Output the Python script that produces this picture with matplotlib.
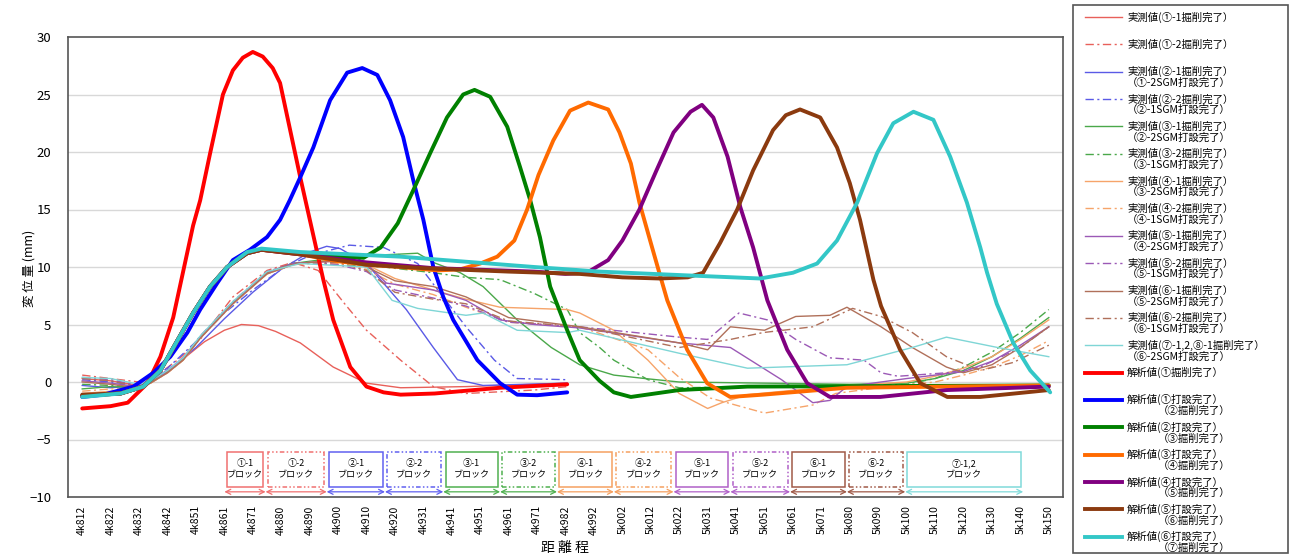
import matplotlib.pyplot as plt
from matplotlib.patches import Rectangle

plt.rcParams['font.family'] = ['Noto Sans CJK JP', 'DejaVu Sans']

# 距離程 (category axis, one label per slot)
chainages = ['4k812', '4k822', '4k832', '4k842', '4k851', '4k861', '4k871', '4k880',
             '4k890', '4k900', '4k910', '4k920', '4k931', '4k941', '4k951', '4k961',
             '4k971', '4k982', '4k992', '5k002', '5k012', '5k022', '5k031', '5k041',
             '5k051', '5k061', '5k071', '5k080', '5k090', '5k100', '5k110', '5k120',
             '5k130', '5k140', '5k150']

# ---- measured values (実測値) ----
m1_x = [0, 1, 2, 2.75, 3.5, 4.3, 5.0, 5.6, 6.2, 6.8, 7.67, 8.83, 10.0, 11.2, 13.5, 17.06]
m1_y = [0.3, 0.1, -0.3, 0.6, 1.9, 3.5, 4.5, 5.0, 4.9, 4.4, 3.4, 1.3, -0.1, -0.5, -0.4, -0.1]
m2_x = [0, 1, 2, 2.75, 3.4, 4.15, 5.3, 6.5, 7.4, 8.3, 9.2, 10.0, 11.2, 12.35, 13.5, 15.9, 17.06]
m2_y = [0.6, 0.3, 0.0, 0.8, 2.0, 3.7, 7.4, 9.7, 10.4, 9.7, 6.9, 4.5, 1.9, -0.4, -1.0, -0.7, -0.4]
m3_x = [0, 1, 2, 3, 4, 5, 6, 7, 8, 8.6, 9.07, 10.0, 10.7, 11.4, 12.35, 13.2, 14.1, 17.06]
m3_y = [-0.3, -0.5, -0.3, 1.0, 3.0, 5.5, 7.8, 9.8, 11.3, 11.8, 11.6, 10.3, 8.3, 6.3, 3.0, 0.2, -0.3, -0.1]
m4_x = [0, 1, 2, 3, 4, 5, 6, 7, 8, 9.4, 10.6, 11.8, 12.6, 13.5, 14.5, 15.3, 17.06]
m4_y = [0.2, 0.0, -0.3, 1.2, 3.5, 6.0, 8.0, 9.8, 11.0, 11.9, 11.7, 10.3, 7.7, 4.8, 1.9, 0.3, 0.2]
m5_x = [0, 1, 2, 2.4, 3, 3.55, 4.15, 5.3, 6.5, 7.4, 8, 9, 10, 11, 11.8, 12.35, 13.3, 14.1,
        15.3, 16.5, 17.5, 18.7, 19.8, 21.0, 24, 27, 29, 30, 31, 32, 33, 34]
m5_y = [-0.6, -0.4, -0.5, 0.0, 0.9, 2.0, 3.9, 6.9, 9.5, 10.3, 10.5, 10.8, 11.0, 11.1, 11.2,
        10.4, 9.5, 8.3, 5.4, 3.0, 1.5, 0.6, 0.3, 0.0, -0.1, -0.2, -0.1, 0.3, 1.0, 2.2, 3.8, 5.6]
m6_x = [0, 1, 2, 2.4, 3, 3.55, 4.15, 5.3, 6.5, 7.4, 8, 9, 10.6, 12.35, 13.5, 14.7, 15.9,
        17.06, 17.5, 18.2, 18.7, 19.9, 21.0, 24, 27, 29, 30, 31, 32, 33, 34]
m6_y = [-0.2, -0.3, -0.5, 0.0, 0.9, 2.0, 3.9, 6.9, 9.5, 10.3, 10.4, 10.2, 10.0, 9.5, 9.1,
        8.9, 7.7, 6.3, 4.3, 3.0, 1.9, 0.2, -0.5, -0.4, -0.3, -0.2, 0.3, 1.3, 2.6, 4.3, 6.3]
m7_x = [0, 1, 2, 2.4, 3, 3.55, 4.15, 5.3, 6.5, 7.4, 8, 9, 10, 11, 12.35, 13.5, 14.7, 15.9,
        17.06, 17.5, 18.7, 19.9, 21.0, 22.0, 22.5, 23.4, 25.1, 27, 29, 30, 31, 32, 33, 34]
m7_y = [-1.0, -0.8, -0.6, -0.1, 0.8, 1.9, 3.8, 6.8, 9.4, 10.2, 10.4, 10.5, 10.2, 9.0, 8.0,
        7.2, 6.5, 6.4, 6.3, 6.0, 4.5, 1.9, -1.0, -2.3, -1.8, -1.1, -0.7, -0.3, 0.0, 0.5,
        1.2, 2.2, 3.7, 5.4]
m8_x = [0, 1, 2, 2.4, 3, 3.55, 4.15, 5.3, 6.5, 7.4, 8, 9, 10, 11, 12.35, 13.5, 15, 17.5,
        19.9, 21.0, 22.1, 24.0, 25.7, 26.5, 28, 30, 31, 32, 33, 34]
m8_y = [-0.8, -0.6, -0.6, -0.1, 0.8, 1.9, 3.8, 6.8, 9.4, 10.2, 10.3, 10.3, 9.8, 8.5, 7.6,
        6.5, 5.2, 4.8, 2.8, 0.4, -1.4, -2.7, -2.0, -1.0, -0.5, 0.0, 0.6, 1.3, 2.3, 3.6]
m9_x = [0, 1, 2, 2.4, 3, 3.55, 4.15, 5.3, 6.5, 7.4, 8, 9, 10, 10.7, 12.35, 13.5, 14.7,
        15.9, 17.5, 21.0, 22.8, 24.6, 25.7, 26.3, 26.9, 29, 31, 32, 33, 34]
m9_y = [0.1, -0.1, -0.4, 0.0, 0.9, 2.0, 3.9, 6.9, 9.5, 10.3, 10.4, 10.5, 10.3, 8.6, 8.0,
        7.1, 5.4, 5.0, 4.7, 3.4, 3.0, 0.2, -1.8, -1.6, -0.4, 0.3, 0.9, 1.8, 3.2, 4.8]
m10_x = [0, 1, 2, 2.4, 3, 3.55, 4.15, 5.3, 6.5, 7.4, 8, 9, 10, 11, 12.35, 13.5, 15, 17.5,
         21.0, 22.0, 23.1, 24.1, 25.1, 26.3, 27.5, 28.1, 28.7, 30.4, 31.6, 33, 34]
m10_y = [0.4, 0.2, -0.3, 0.1, 1.0, 2.1, 4.0, 7.0, 9.6, 10.3, 10.4, 10.2, 9.6, 8.0, 7.3, 6.6,
         5.2, 4.8, 3.9, 3.7, 6.0, 5.4, 3.7, 2.1, 1.9, 0.8, 0.5, 0.8, 1.3, 3.0, 4.8]
m11_x = [0, 1, 2, 2.4, 3, 3.55, 4.15, 5.3, 6.5, 7.4, 8, 9, 10, 11, 12.35, 13.5, 15, 17.5,
         21.0, 22.0, 22.8, 24.0, 25.1, 26.3, 26.9, 28.1, 29.2, 30.4, 31, 32, 33, 34]
m11_y = [0.0, -0.2, -0.5, -0.1, 0.8, 1.9, 3.8, 6.8, 9.4, 10.2, 10.4, 10.6, 10.0, 8.8, 8.3,
         7.4, 5.6, 4.8, 3.4, 2.8, 4.8, 4.5, 5.7, 5.8, 6.5, 4.8, 3.0, 1.3, 0.8, 1.5, 3.0, 4.8]
m12_x = [0, 1, 2, 2.4, 3, 3.55, 4.15, 5.3, 6.5, 7.4, 8, 9, 10, 11, 12.35, 13.5, 15, 17.5,
         21.0, 22.8, 23.95, 25.7, 27.1, 28.1, 29.2, 30.4, 31.6, 32.75, 34]
m12_y = [0.3, 0.1, -0.4, 0.0, 0.9, 2.0, 3.9, 6.9, 9.5, 10.3, 10.4, 10.4, 9.7, 7.8, 7.2,
         6.8, 5.3, 4.8, 3.0, 3.7, 4.3, 4.8, 6.4, 5.7, 4.3, 2.2, 1.0, 1.7, 3.2]
m13_x = [0, 1, 2, 2.4, 3, 3.55, 4.15, 5.3, 6.5, 7.67, 10.0, 10.9, 11.8, 13.5, 14.1, 15.3,
         17.06, 17.5, 21.0, 23.4, 26.9, 29.2, 30.4, 32.2, 34]
m13_y = [0.4, 0.3, -0.2, 0.1, 1.0, 2.1, 4.0, 7.0, 9.6, 10.3, 10.0, 7.1, 6.4, 5.8, 6.0, 4.5,
         4.3, 4.5, 2.5, 1.2, 1.5, 3.0, 3.9, 3.0, 2.2]

# ---- analysis values (解析値) ----
a1_x = [0, 1, 1.6, 2.3, 2.75, 3.2, 3.55, 3.9, 4.15, 4.5, 4.95, 5.3, 5.65, 6.0, 6.35, 6.7,
        6.96, 7.67, 8.48, 8.83, 9.43, 10.0, 10.6, 11.2, 12.4, 14.7, 17.06]
a1_y = [-2.3, -2.1, -1.8, -0.1, 2.2, 5.6, 9.6, 13.6, 15.8, 19.9, 25.0, 27.1, 28.2, 28.7,
        28.3, 27.3, 26.0, 17.8, 8.9, 5.4, 1.3, -0.4, -0.9, -1.1, -1.0, -0.5, -0.2]
a2_x = [0, 0.75, 1.8, 2.5, 3.1, 3.7, 4.15, 4.75, 5.3, 5.9, 6.5, 6.96, 7.3, 7.67, 8.13, 8.72,
        9.32, 9.85, 10.38, 10.83, 11.29, 11.64, 12.0, 12.35, 12.7, 13.05, 13.9, 14.7, 15.3,
        16.0, 17.06]
a2_y = [-1.3, -1.1, -0.4, 0.8, 2.2, 4.3, 6.3, 8.6, 10.6, 11.5, 12.6, 14.1, 15.8, 17.8, 20.4,
        24.5, 26.9, 27.3, 26.7, 24.5, 21.3, 17.6, 14.1, 10.0, 7.4, 5.4, 1.9, -0.1, -1.1,
        -1.15, -0.9]
a3_x = [0, 1.35, 2.15, 2.75, 3.3, 3.9, 4.5, 5.1, 5.8, 6.3, 7.67, 9.0, 9.9, 10.5, 11.1,
        11.65, 12.24, 12.83, 13.4, 13.8, 14.35, 14.95, 15.4, 15.76, 16.1, 16.46, 17.06, 17.5,
        18.2, 18.7, 19.3, 21.0, 23.4, 34]
a3_y = [-1.2, -1.0, -0.4, 1.0, 3.4, 6.0, 8.3, 10.0, 11.2, 11.5, 11.2, 10.9, 10.8, 11.7,
        13.8, 16.7, 19.9, 23.0, 25.0, 25.4, 24.8, 22.2, 18.7, 15.8, 12.6, 8.3, 4.5, 1.9, 0.1,
        -0.9, -1.3, -0.7, -0.4, -0.3]
a4_x = [0, 1.35, 2.15, 2.75, 3.3, 3.9, 4.5, 5.1, 5.8, 6.3, 7.67, 9.0, 10.0, 11.2, 12.5,
        13.3, 14.0, 14.6, 15.2, 15.65, 16.05, 16.57, 17.16, 17.8, 18.5, 18.9, 19.3, 19.6, 20.0,
        20.3, 20.58, 21.28, 21.98, 22.79, 23.95, 26.9, 34]
a4_y = [-1.2, -1.0, -0.4, 1.0, 3.4, 6.0, 8.3, 10.0, 11.2, 11.5, 11.1, 10.5, 10.2, 10.0,
        9.7, 9.8, 10.3, 10.9, 12.3, 15.0, 18.0, 21.0, 23.6, 24.3, 23.7, 21.7, 19.0, 15.6,
        12.1, 9.5, 7.1, 2.8, -0.1, -1.3, -1.1, -0.5, -0.3]
a5_x = [0, 1.35, 2.15, 2.75, 3.3, 3.9, 4.5, 5.1, 5.8, 6.3, 7.67, 9.0, 10.0, 12.35, 15.9,
        17.0, 17.75, 18.5, 19.0, 19.6, 20.2, 20.8, 21.4, 21.8, 22.2, 22.7, 23.15, 23.6, 24.1,
        24.8, 25.5, 26.3, 28.07, 30.4, 34]
a5_y = [-1.2, -1.0, -0.4, 1.0, 3.4, 6.0, 8.3, 10.0, 11.2, 11.5, 11.1, 10.7, 10.4, 9.9,
        9.6, 9.4, 9.5, 10.6, 12.3, 15.0, 18.4, 21.7, 23.5, 24.1, 23.0, 19.6, 15.2, 11.7, 7.1,
        2.8, -0.1, -1.3, -1.3, -0.7, -0.4]
a6_x = [0, 1.35, 2.15, 2.75, 3.3, 3.9, 4.5, 5.1, 5.8, 6.3, 7.67, 9.0, 10.0, 12.0, 15.0,
        17.5, 19.0, 20.3, 21.3, 21.84, 22.44, 23.04, 23.6, 24.3, 24.75, 25.25, 25.96, 26.55,
        27.0, 27.36, 27.83, 28.1, 28.77, 29.48, 30.43, 31.59, 34]
a6_y = [-1.1, -1.0, -0.4, 1.0, 3.4, 6.0, 8.3, 10.0, 11.2, 11.5, 11.1, 10.6, 10.2, 9.9, 9.6,
        9.4, 9.1, 9.0, 9.1, 9.5, 12.1, 15.0, 18.4, 21.9, 23.2, 23.7, 23.0, 20.4, 17.3, 14.1,
        8.9, 6.6, 2.8, -0.1, -1.3, -1.3, -0.7]
a7_x = [0, 1.35, 2.15, 2.75, 3.3, 3.9, 4.5, 5.1, 5.8, 6.3, 7.67, 11.19, 15.9, 18.2, 21.0,
        23.85, 25.0, 25.85, 26.55, 27.26, 27.96, 28.53, 29.24, 29.94, 30.53, 31.12, 31.59,
        31.83, 32.17, 32.75, 33.35, 34.05]
a7_y = [-1.3, -1.0, -0.4, 1.0, 3.4, 6.0, 8.3, 10.0, 11.3, 11.6, 11.3, 10.9, 10.0, 9.6, 9.3,
        9.0, 9.5, 10.3, 12.3, 15.6, 19.9, 22.5, 23.5, 22.8, 19.6, 15.6, 11.7, 9.5, 6.8, 3.4,
        1.0, -0.9]

meas_x = [m1_x, m2_x, m3_x, m4_x, m5_x, m6_x, m7_x, m8_x, m9_x, m10_x, m11_x, m12_x, m13_x]
meas_y = [m1_y, m2_y, m3_y, m4_y, m5_y, m6_y, m7_y, m8_y, m9_y, m10_y, m11_y, m12_y, m13_y]
ana_x = [a1_x, a2_x, a3_x, a4_x, a5_x, a6_x, a7_x]
ana_y = [a1_y, a2_y, a3_y, a4_y, a5_y, a6_y, a7_y]

meas_labels = [
    ('実測値(①-1掘削完了）', ''),
    ('実測値(①-2掘削完了）', ''),
    ('実測値(②-1掘削完了）', '（①-2SGM打設完了）'),
    ('実測値(②-2掘削完了）', '（②-1SGM打設完了）'),
    ('実測値(③-1掘削完了）', '（②-2SGM打設完了）'),
    ('実測値(③-2掘削完了）', '（③-1SGM打設完了）'),
    ('実測値(④-1掘削完了）', '（③-2SGM打設完了）'),
    ('実測値(④-2掘削完了）', '（④-1SGM打設完了）'),
    ('実測値(⑤-1掘削完了）', '（④-2SGM打設完了）'),
    ('実測値(⑤-2掘削完了）', '（⑤-1SGM打設完了）'),
    ('実測値(⑥-1掘削完了）', '（⑤-2SGM打設完了）'),
    ('実測値(⑥-2掘削完了）', '（⑥-1SGM打設完了）'),
    ('実測値(⑦-1,2,⑧-1掘削完了）', '（⑥-2SGM打設完了）'),
]
ana_labels = [
    ('解析値(①掘削完了）', ''),
    ('解析値(①打設完了）', '（②掘削完了）'),
    ('解析値(②打設完了）', '（③掘削完了）'),
    ('解析値(③打設完了）', '（④掘削完了）'),
    ('解析値(④打設完了）', '（⑤掘削完了）'),
    ('解析値(⑤打設完了）', '（⑥掘削完了）'),
    ('解析値(⑥打設完了）', '（⑦掘削完了）'),
]

meas_colors = ['#e8605a', '#e8605a', '#5a5ae6', '#5a5ae6', '#4aa84a', '#4aa84a',
               '#f6a46a', '#f6a46a', '#9b59b6', '#9b59b6', '#b0705a', '#b0705a', '#7fd6d6']
ana_colors = ['#ff0000', '#0000ff', '#008000', '#ff6a00', '#800080', '#8b3a0f', '#33c7c7']

# blocks drawn along the bottom
block_edges = [5.0, 6.45, 8.6, 10.65, 12.7, 14.7, 16.7, 18.7, 20.8, 22.8, 24.9, 26.9, 28.95, 33.1]
block_names = ['①-1', '①-2', '②-1', '②-2', '③-1', '③-2', '④-1', '④-2',
               '⑤-1', '⑤-2', '⑥-1', '⑥-2', '⑦-1,2']
block_colors = ['#f07070', '#f07070', '#6060f0', '#6060f0', '#50b050', '#50b050',
                '#f5a060', '#f5a060', '#b060c8', '#b060c8', '#a05a48', '#a05a48', '#80dada']

dashdot = (0, (6, 2.5, 1.5, 2.5))

fig = plt.figure(figsize=(12.9, 5.55), dpi=100)
ax = fig.add_axes([68 / 1290, 58 / 555, 995 / 1290, 460 / 555])

for i in range(13):
    ls = '-' if i % 2 == 0 or i == 12 else dashdot
    ax.plot(meas_x[i], meas_y[i], color=meas_colors[i], lw=1.0, ls=ls, zorder=3)
for i in range(7):
    ax.plot(ana_x[i], ana_y[i], color=ana_colors[i], lw=2.8, zorder=4,
            solid_capstyle='round', solid_joinstyle='round')

# block boxes and arrows
for i, name in enumerate(block_names):
    x0, x1 = block_edges[i], block_edges[i + 1]
    ls = '-' if (i % 2 == 0 or i == 12) else (0, (3, 1.5, 1, 1.5, 1, 1.5))
    ax.add_patch(Rectangle((x0 + 0.08, -9.15), x1 - x0 - 0.16, 3.05, fill=False,
                           edgecolor=block_colors[i], lw=1.1, ls=ls, zorder=2))
    ax.text((x0 + x1) / 2, -7.6, name + '\nブロック', ha='center', va='center',
            fontsize=6.5, linespacing=1.3, zorder=2)
    ax.annotate('', xy=(x1, -9.55), xytext=(x0, -9.55),
                arrowprops=dict(arrowstyle='<->', color=block_colors[i], lw=0.9,
                                shrinkA=0, shrinkB=0, mutation_scale=9), zorder=2)

ax.set_xlim(-0.5, 34.5)
ax.set_ylim(-10, 30)
ax.set_yticks(range(-10, 31, 5))
ax.set_xticks(range(len(chainages)))
ax.set_xticklabels(chainages, rotation=90, fontsize=7.5)
ax.tick_params(axis='y', labelsize=9.5, length=0, pad=12)
ax.tick_params(axis='x', length=0, pad=6)
for y in range(-5, 30, 5):
    ax.axhline(y, color='#d8d8d8', lw=1.0, zorder=1)
for sp in ax.spines.values():
    sp.set_color('#555555')
    sp.set_linewidth(1.2)

fig.text(565 / 1290, 1 - 548 / 555, '距 離 程', ha='center', va='center', fontsize=10)
fig.text(29 / 1290, 1 - 268 / 555, '変 位 量 (mm)', ha='center', va='center',
         rotation=90, fontsize=9)

# legend drawn in figure pixel coordinates
lax = fig.add_axes([0, 0, 1, 1], facecolor='none')
lax.set_xlim(0, 1290)
lax.set_ylim(555, 0)
lax.axis('off')
lax.add_patch(Rectangle((1073, 5), 215, 548, fill=False, edgecolor='#555555', lw=1.2))

entries = []
for i in range(13):
    ls = '-' if i % 2 == 0 or i == 12 else dashdot
    entries.append((meas_labels[i], meas_colors[i], ls, 1.0, 0))
for i in range(7):
    entries.append((ana_labels[i], ana_colors[i], '-', 2.8, 31))

for k, (lab, col, ls, lw, indent) in enumerate(entries):
    yy = 17 + k * 27.35
    lax.plot([1085, 1122], [yy, yy], color=col, ls=ls, lw=lw)
    lax.text(1127, yy, lab[0], fontsize=7.5, va='center', ha='left')
    if lab[1]:
        lax.text(1127 + indent, yy + 11, lab[1], fontsize=7.5, va='center', ha='left')

fig.savefig('out.png', dpi=100)
